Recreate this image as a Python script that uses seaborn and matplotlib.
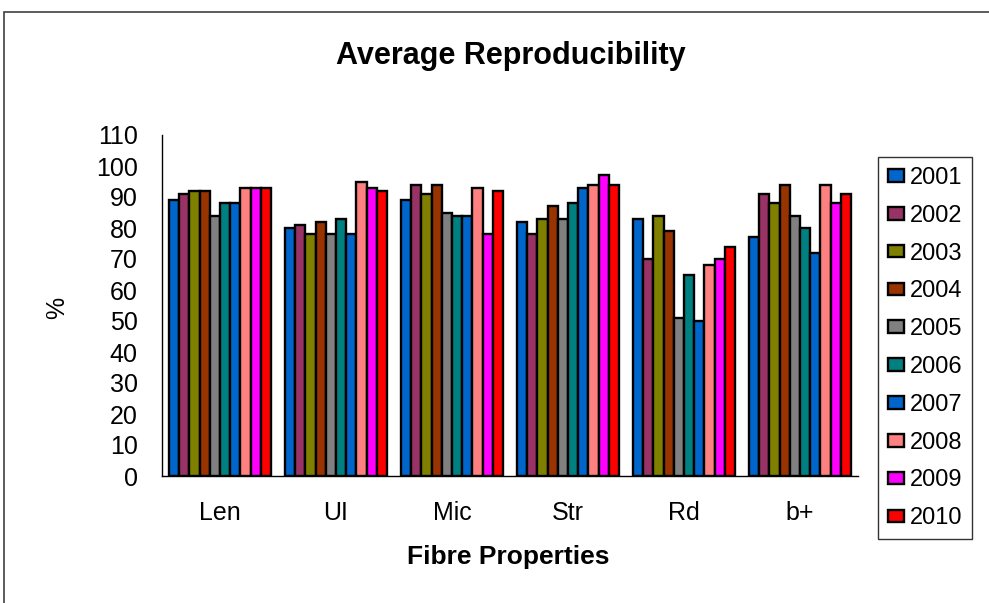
import matplotlib
matplotlib.use("Agg")
import matplotlib.pyplot as plt
import matplotlib.patches as mpatches
import seaborn as sns
import pandas as pd
import numpy as np

categories = ["Len", "UI", "Mic", "Str", "Rd", "b+"]
years = ["2001", "2002", "2003", "2004", "2005", "2006", "2007", "2008", "2009", "2010"]
values = {
    "2001": [89, 80, 89, 82, 83, 77],
    "2002": [91, 81, 94, 78, 70, 91],
    "2003": [92, 78, 91, 83, 84, 88],
    "2004": [92, 82, 94, 87, 79, 94],
    "2005": [84, 78, 85, 83, 51, 84],
    "2006": [88, 83, 84, 88, 65, 80],
    "2007": [88, 78, 84, 93, 50, 72],
    "2008": [93, 95, 93, 94, 68, 94],
    "2009": [93, 93, 78, 97, 70, 88],
    "2010": [93, 92, 92, 94, 74, 91],
}
colors = ["#0066CC", "#993366", "#808000", "#993300", "#808080",
          "#008080", "#0066CC", "#FF8080", "#FF00FF", "#FF0000"]
yticks = list(range(0, 111, 10))

rows = []
for y in years:
    for c, v in zip(categories, values[y]):
        rows.append({"Category": c, "Year": y, "Value": v})
df = pd.DataFrame(rows)

sns.set_style("white")
plt.rcParams['font.family'] = ['Liberation Sans', 'DejaVu Sans']
plt.rcParams['text.color'] = 'black'
plt.rcParams['axes.labelcolor'] = 'black'
plt.rcParams['xtick.color'] = 'black'
plt.rcParams['ytick.color'] = 'black'

fig = plt.figure(figsize=(9.89, 6.03), dpi=100)
ax = fig.add_axes([162/989, 1-476/603, (858-162)/989, (476-135)/603])

sns.barplot(data=df, x="Category", y="Value", hue="Year", order=categories,
            hue_order=years, palette=colors, width=0.88, saturation=1,
            edgecolor="black", linewidth=1.7, ax=ax, legend=True)

ax.set_ylim(0, 110)
ax.set_xlim(-0.5, len(categories) - 0.5)
ax.set_yticks(yticks)
ax.set_yticklabels([str(t) for t in yticks], fontsize=18)
ax.tick_params(axis='y', direction='out', length=3.6, width=1, pad=14)
ax.tick_params(axis='x', which='major', length=0, pad=18, labelsize=18)
ax.set_xticks(np.arange(-0.5, len(categories), 1), minor=True)
ax.tick_params(axis='x', which='minor', direction='out', length=5, width=1)

for s in ["top", "right"]:
    ax.spines[s].set_visible(False)
for s in ["left", "bottom"]:
    ax.spines[s].set_color("black")
    ax.spines[s].set_linewidth(1)

ax.set_ylabel("%", fontsize=18)
ax.yaxis.set_label_coords((57-162)/696, (476-308)/341)
ax.set_xlabel("Fibre Properties", fontsize=19, fontweight="bold")
ax.xaxis.set_label_coords((508-162)/696, -(557-476)/341)
ax.xaxis.label.set_va("center")
ax.yaxis.label.set_va("center")

fig.text(511/989, 1-56/603, "Average Reproducibility", fontsize=22,
         fontweight="bold", ha="center", va="center")

handles, labels = ax.get_legend_handles_labels()
ax.get_legend().remove()
leg = fig.legend(handles, labels, loc="upper left",
                 bbox_to_anchor=(878/989, 1-157/603), fontsize=17,
                 frameon=True, fancybox=False, edgecolor="black",
                 handlelength=0.68, handleheight=0.45, handletextpad=0.25,
                 labelspacing=0.67, borderpad=0.42, borderaxespad=0)
leg.get_frame().set_linewidth(1)

border = mpatches.Rectangle((4/989, -0.1), 1.2, 1.1 - 12/603,
                            transform=fig.transFigure, fill=False,
                            edgecolor="#404040", linewidth=1.2)
fig.patches.append(border)

fig.savefig("out.png", dpi=100, facecolor="white")
